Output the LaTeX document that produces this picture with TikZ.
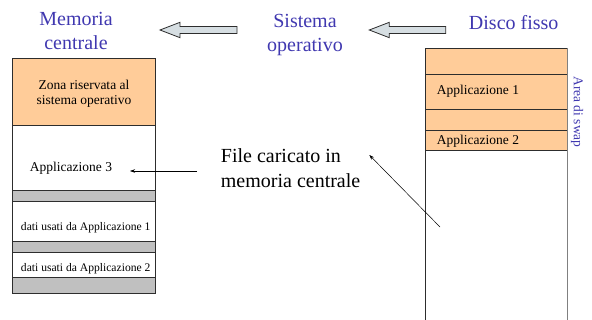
\documentclass[tikz,border=0pt]{standalone}
\usepackage{fontspec}
\setmainfont{Liberation Serif}
\usetikzlibrary{arrows.meta}
\definecolor{ttl}{RGB}{64,56,176}
\definecolor{peach}{RGB}{255,204,153}
\definecolor{bandgrey}{RGB}{192,192,192}
\definecolor{arrfill}{RGB}{214,222,226}
\definecolor{edge}{RGB}{45,45,45}
\begin{document}
\begin{tikzpicture}[x=1pt,y=-1pt,
  seg/.style={draw=edge, line width=0.9pt, inner sep=0pt, outer sep=0pt},
  lbl/.style={font=\fontsize{13.5}{15}\selectfont, inner sep=0pt},
  sml/.style={font=\fontsize{11.6}{13}\selectfont, inner sep=0pt},
  ttlst/.style={text=ttl, font=\fontsize{20}{24}\selectfont, align=center, inner sep=0pt},
  bigtxt/.style={font=\fontsize{20}{25}\selectfont, align=left, inner sep=0pt},
  barrow/.style={draw=edge, fill=arrfill, line width=0.8pt, line join=miter},
  thinarrow/.style={draw=black, line width=0.5pt, -{Stealth[length=5pt,width=3.5pt]}}]
\useasboundingbox (0,0) rectangle (592,320);
% titles
\node[ttlst] (mem) at (76,31) {Memoria\\centrale};
\node[ttlst] (so) at (305,35) {Sistema\\operativo};
\node[ttlst] (disco) at (513.7,23) {Disco fisso};
% block arrows
\coordinate (tipA) at (160,30);
\coordinate (tipB) at (369.3,30);
\draw[barrow] (tipA) -- ++(20,-7.7) -- ++(0,4.2) -- ++(57,0) -- ++(0,7) -- ++(-57,0) -- ++(0,4.2) -- cycle;
\draw[barrow] (tipB) -- ++(20,-7.7) -- ++(0,4.2) -- ++(56.4,0) -- ++(0,7) -- ++(-56.4,0) -- ++(0,4.2) -- cycle;
% memoria centrale
\node[seg, fill=peach, minimum width=143pt, minimum height=67pt] (zona) at (83.5,91.5) {};
\node[seg, fill=white, minimum width=143pt, minimum height=65.7pt] (m1) at (83.5,157.85) {};
\node[seg, fill=bandgrey, minimum width=143pt, minimum height=10.3pt] (g1) at (83.5,195.85) {};
\node[seg, fill=white, minimum width=143pt, minimum height=40.7pt] (m2) at (83.5,221.35) {};
\node[seg, fill=bandgrey, minimum width=143pt, minimum height=10.6pt] (g2) at (83.5,247) {};
\node[seg, fill=white, minimum width=143pt, minimum height=25pt] (m3) at (83.5,264.8) {};
\node[seg, fill=bandgrey, minimum width=143pt, minimum height=16pt] (g3) at (83.5,285.3) {};
\node[lbl, align=center] (zonatxt) at (84,93.5) {Zona riservata al\\sistema operativo};
\node[lbl] (app3) at (71,168.5) {Applicazione 3};
\node[sml] (d1t) at (85.7,228) {dati usati da Applicazione 1};
\node[sml] (d2t) at (85.7,268.6) {dati usati da Applicazione 2};
% disco fisso
\node[seg, fill=peach, minimum width=142.7pt, minimum height=25.7pt] (k0) at (496.35,61.15) {};
\node[seg, fill=peach, minimum width=142.7pt, minimum height=35.3pt] (k1) at (496.35,91.65) {};
\node[seg, fill=peach, minimum width=142.7pt, minimum height=20.7pt] (k2) at (496.35,119.65) {};
\node[seg, fill=peach, minimum width=142.7pt, minimum height=20pt] (k3) at (496.35,140) {};
\node[seg, fill=white, minimum width=142.7pt, minimum height=190pt] (k4) at (496.35,245) {};
\draw[draw=gray, line width=1pt] (k0.north east) -- (k4.south east);
\node[lbl, anchor=west] (a1) at (436.7,91) {Applicazione 1};
\node[lbl, anchor=west] (a2) at (436.7,141.5) {Applicazione 2};
\node[lbl, text=ttl, rotate=-90] (swap) at (577,112) {Area di swap};
% file caricato
\node[bigtxt, anchor=west] (file) at (220.7,168) {File caricato in\\memoria centrale};
\coordinate (fromFile) at (197,171);
\coordinate (toApp3) at (130,171);
\draw[thinarrow] (fromFile) -- (toApp3);
\coordinate (fromDisk) at (440,227);
\coordinate (toFile) at (369.3,155);
\draw[thinarrow] (fromDisk) -- (toFile);
\end{tikzpicture}
\end{document}
